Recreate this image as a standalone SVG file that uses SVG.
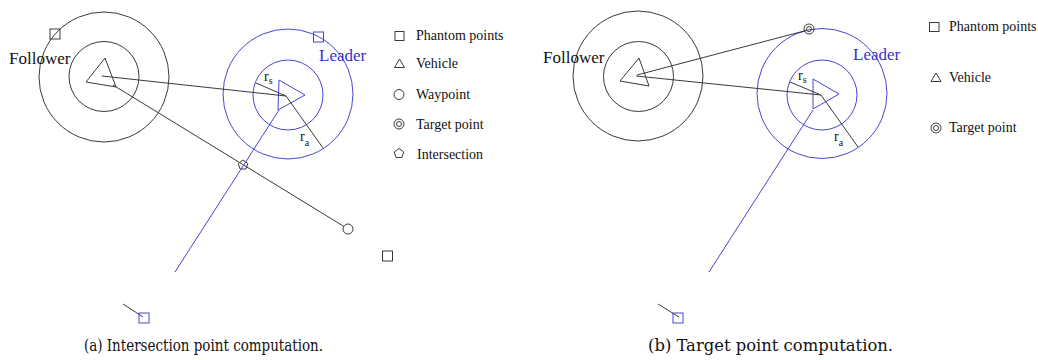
<svg xmlns="http://www.w3.org/2000/svg" width="1038" height="360" viewBox="0 0 1038 360">
<style>
.k{fill:none;stroke:#3a3a3a;stroke-width:1}
.b{fill:none;stroke:#4646d2;stroke-width:1}
.lbl{font-family:"Liberation Serif","Times New Roman",serif;font-size:17px;fill:#111}
.lead{font-family:"Liberation Serif","Times New Roman",serif;font-size:17px;fill:#3333cc}
.leg{font-family:"Liberation Serif","Times New Roman",serif;font-size:14px;fill:#111}
.r{font-family:"Liberation Serif","Times New Roman",serif;font-size:14px;fill:#111}
.sub{font-family:"Liberation Serif","Times New Roman",serif;font-size:10px;fill:#111}
.cap{font-family:"DejaVu Serif","Liberation Serif",serif;font-size:16px;fill:#111}
</style>
<rect width="1038" height="360" fill="#fff"/>

<!-- Panel (a) -->
<g id="a-follower">
<circle class="k" cx="104" cy="77" r="65"/>
<circle class="k" cx="104" cy="76.5" r="35"/>
<polygon class="k" points="105,58 86,82 116,87"/>
<text class="lbl" x="9" y="64">Follower</text>
</g>
<g id="a-leader">
<circle class="b" cx="288" cy="94" r="65"/>
<circle class="b" cx="288" cy="95" r="35"/>
<polygon class="b" points="279,80 305,95 278,110"/>
<text class="lead" x="319" y="61">Leader</text>
</g>
<g id="a-radii">
<line class="k" x1="286" y1="96" x2="256" y2="83"/>
<line class="k" x1="286" y1="96" x2="323" y2="148"/>
<text class="r" x="264" y="81">r<tspan class="sub" dy="3">s</tspan></text>
<text class="r" x="300" y="141">r<tspan class="sub" dy="5">a</tspan></text>
</g>
<g id="a-phantoms">
<rect class="k" x="50" y="29" width="10" height="10"/>
<rect class="b" x="313.5" y="32" width="10" height="10"/>
<rect class="k" x="382.5" y="251" width="10" height="10"/>
<rect class="b" x="139" y="313" width="10" height="10"/>
</g>
<g id="a-waypoint"><circle class="k" cx="348" cy="229" r="5"/></g>
<g id="a-intersection"><polygon class="k" points="243,160 247.8,163.5 245.9,169 240.1,169 238.2,163.5"/></g>
<g id="a-connectors">
<line class="k" x1="102" y1="76" x2="286" y2="96"/>
<line class="k" x1="113" y1="85" x2="344" y2="226.5"/>
<line class="b" x1="279" y1="110" x2="175" y2="272"/>
<line class="k" x1="123" y1="304" x2="143" y2="317"/>
</g>
<g id="a-legend">
<rect class="k" x="395" y="31.5" width="9" height="9"/>
<text class="leg" x="416" y="40">Phantom points</text>
<polygon class="k" points="399.5,59 404.5,67.5 394.5,67.5"/>
<text class="leg" x="416" y="68">Vehicle</text>
<circle class="k" cx="399" cy="94.5" r="5"/>
<text class="leg" x="416" y="99">Waypoint</text>
<circle class="k" cx="399" cy="124" r="5"/>
<circle class="k" cx="399" cy="124" r="2.5"/>
<text class="leg" x="416" y="128.5">Target point</text>
<polygon class="k" points="399,148.5 403.8,152 401.9,157.5 396.1,157.5 394.2,152"/>
<text class="leg" x="417" y="158.5">Intersection</text>
</g>
<text class="cap" x="84" y="351" textLength="239" lengthAdjust="spacingAndGlyphs">(a) Intersection point computation.</text>

<!-- Panel (b) -->
<g id="b-follower">
<circle class="k" cx="638" cy="76" r="65"/>
<circle class="k" cx="638.5" cy="76.5" r="35"/>
<polygon class="k" points="639,58 620,81 649,86"/>
<text class="lbl" x="543" y="63">Follower</text>
</g>
<g id="b-leader">
<circle class="b" cx="822" cy="93.5" r="65"/>
<circle class="b" cx="822" cy="95" r="35"/>
<polygon class="b" points="813,79 839,94 813,109"/>
<text class="lead" x="853" y="60">Leader</text>
</g>
<g id="b-radii">
<line class="k" x1="821" y1="95" x2="790" y2="82"/>
<line class="k" x1="821" y1="95" x2="858" y2="147"/>
<text class="r" x="798" y="80">r<tspan class="sub" dy="3">s</tspan></text>
<text class="r" x="834" y="141">r<tspan class="sub" dy="5">a</tspan></text>
</g>
<g id="b-target">
<circle class="k" cx="809" cy="29" r="5"/>
<circle class="k" cx="809" cy="29" r="2.5"/>
</g>
<g id="b-phantoms">
<rect class="b" x="673" y="313" width="10" height="10"/>
</g>
<g id="b-connectors">
<line class="k" x1="637" y1="75" x2="806" y2="30.5"/>
<line class="k" x1="636" y1="76" x2="821" y2="95"/>
<line class="b" x1="813" y1="110" x2="709" y2="272"/>
<line class="k" x1="658" y1="304" x2="679" y2="317"/>
</g>
<g id="b-legend">
<rect class="k" x="929.5" y="22.5" width="9.5" height="9"/>
<text class="leg" x="949" y="31">Phantom points</text>
<polygon class="k" points="936,73 941,81.5 931,81.5"/>
<text class="leg" x="949" y="82">Vehicle</text>
<circle class="k" cx="936" cy="128" r="5"/>
<circle class="k" cx="936" cy="128" r="2.5"/>
<text class="leg" x="949" y="132">Target point</text>
</g>
<text class="cap" x="648" y="351" textLength="245" lengthAdjust="spacingAndGlyphs">(b) Target point computation.</text>
</svg>
